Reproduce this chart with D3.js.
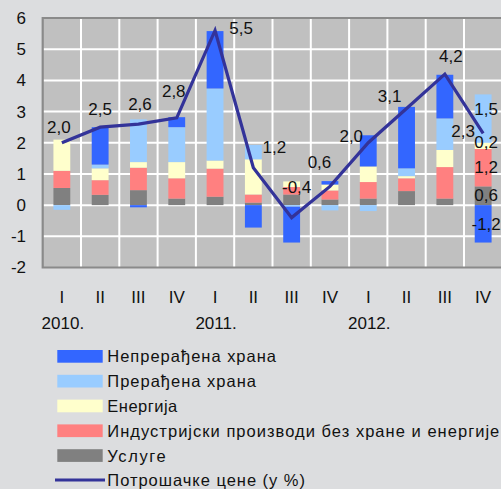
<!DOCTYPE html>
<html>
<head>
<meta charset="utf-8">
<script src="https://cdn.jsdelivr.net/npm/d3@7"></script>
<style>
  html, body { margin: 0; padding: 0; background: #DCDDDF; overflow: hidden; }
  svg { display: block; font-family: "Liberation Sans", Arial, sans-serif; }
</style>
</head>
<body>
<svg id="chart" width="501" height="489"></svg>
<script>
// ---- data ----
const quarters = ["I","II","III","IV","I","II","III","IV","I","II","III","IV"];
const years = [{label:"2010.", at:0},{label:"2011.", at:4},{label:"2012.", at:8}];
const yTicks = [-2,-1,0,1,2,3,4,5,6];

const seriesNames = [
  "Непрерађена храна",
  "Прерађена храна",
  "Енергија",
  "Индустријски производи без хране и енергије",
  "Услуге"
];
const unprocessedFood = [0, 1.20, -0.07, 0.32, 1.84, -0.72, -1.15, 0.11, 1.00, 1.97, 1.40, -1.20];
const processedFood   = [-0.15, 0.12, 1.37, 1.12, 2.31, 0.46, -0.05, -0.17, -0.19, 0.25, 1.01, 1.55];
const energy          = [1.00, 0.38, 0.18, 0.52, 0.26, 1.13, 0.18, 0.19, 0.50, 0.07, 0.55, 0.20];
const industrial      = [0.55, 0.47, 0.72, 0.65, 0.90, 0.26, 0.24, 0.29, 0.53, 0.41, 1.01, 1.20];
const services        = [0.55, 0.33, 0.48, 0.21, 0.27, 0.08, 0.34, 0.18, 0.21, 0.45, 0.21, 0.60];

const cpiName = "Потрошачке цене (у %)";
const cpi = [2.0, 2.5, 2.6, 2.8, 5.6, 1.2, -0.4, 0.6, 2.0, 3.1, 4.2, 2.3];
const cpiLabels = ["2,0","2,5","2,6","2,8","5,5","1,2","-0,4","0,6","2,0","3,1","4,2","2,3"];
// component labels shown on the last bar
const lastBarLabels = [
  {key:"unprocessed", text:"-1,2"},
  {key:"processed", text:"1,5"},
  {key:"energy", text:"0,2"},
  {key:"industrial", text:"1,2"},
  {key:"services", text:"0,6"}
];

// ---- styles ----
const colors = {
  unprocessed: "#3366FF",
  processed: "#99CCFF",
  energy: "#FFFFCC",
  industrial: "#FF8080",
  services: "#808080"
};
const lineColor = "#333399";

// ---- build table ----
const table = quarters.map((q, i) => ({
  idx: i,
  services: services[i],
  industrial: industrial[i],
  energy: energy[i],
  processed: processedFood[i],
  unprocessed: unprocessedFood[i]
}));
const stackKeys = ["services","industrial","energy","processed","unprocessed"];
const stacked = d3.stack().keys(stackKeys).offset(d3.stackOffsetDiverging)(table);

// ---- layout ----
const svg = d3.select("#chart");
const plot = {left: 42.7, right: 502.3, top: 18, bottom: 267.5};

const x = d3.scaleBand().domain(d3.range(quarters.length))
  .range([plot.left, plot.right]).paddingInner(0.56).paddingOuter(0.28);
const xc = d3.scaleBand().domain(d3.range(quarters.length))
  .range([plot.left, plot.right]);
const y = d3.scaleLinear().domain([-2, 6]).range([plot.bottom, plot.top]);

// plot background
svg.append("rect")
  .attr("x", plot.left).attr("y", plot.top)
  .attr("width", plot.right - plot.left).attr("height", plot.bottom - plot.top)
  .attr("fill", "#C0C0C0");

// horizontal grid
svg.append("g").selectAll("line").data(yTicks.filter(t => t > -2 && t < 6)).join("line")
  .attr("x1", plot.left).attr("x2", plot.right)
  .attr("y1", d => y(d)).attr("y2", d => y(d))
  .attr("stroke", "#FFFFFF").attr("stroke-width", 2);
// vertical grid at category boundaries
svg.append("g").selectAll("line").data(d3.range(1, quarters.length)).join("line")
  .attr("x1", d => xc(d)).attr("x2", d => xc(d))
  .attr("y1", plot.top).attr("y2", plot.bottom)
  .attr("stroke", "#FFFFFF").attr("stroke-width", 2);

// bars
svg.append("g").selectAll("g").data(stacked).join("g")
  .attr("fill", d => colors[d.key])
  .selectAll("rect").data(d => d).join("rect")
  .attr("x", d => x(d.data.idx))
  .attr("width", x.bandwidth())
  .attr("y", d => y(Math.max(d[0], d[1])))
  .attr("height", d => Math.abs(y(d[0]) - y(d[1])));

// plot border
svg.append("path")
  .attr("d", `M${plot.right},${plot.top}H${plot.left}V${plot.bottom}H${plot.right}`)
  .attr("fill", "none").attr("stroke", "#8A8A8A").attr("stroke-width", 2.2);

// y axis labels
const yAxis = d3.axisLeft(y).tickValues(yTicks).tickSize(0).tickPadding(0).tickFormat(d => String(d));
const gy = svg.append("g").attr("transform", `translate(26,0)`).call(yAxis);
gy.select(".domain").remove();
gy.selectAll("text").attr("font-size", 17).attr("fill", "#111").attr("font-family", "Liberation Sans, Arial, sans-serif");

// x axis labels
const xAxis = d3.axisBottom(xc).tickSize(0).tickPadding(0).tickFormat(i => quarters[i]);
const gx = svg.append("g").attr("transform", `translate(0,${plot.bottom})`).call(xAxis);
gx.select(".domain").remove();
gx.selectAll("text").attr("font-size", 17).attr("fill", "#111")
  .attr("font-family", "Liberation Sans, Arial, sans-serif").attr("dy", null).attr("y", 35);
svg.append("g").selectAll("text").data(years).join("text")
  .attr("x", d => xc(d.at) + xc.bandwidth() / 2 + 1)
  .attr("y", 329)
  .attr("text-anchor", "middle").attr("font-size", 17).attr("fill", "#111")
  .text(d => d.label);

// CPI line
const line = d3.line().x((d, i) => xc(i) + xc.bandwidth() / 2).y(d => y(d));
svg.append("path").datum(cpi)
  .attr("d", line).attr("fill", "none")
  .attr("stroke", lineColor).attr("stroke-width", 3.2).attr("stroke-linejoin", "miter");

// CPI labels
const cpiOffsets = [[-3,-10],[0,-12],[1.5,-14],[-3,-21],[26,4],[21,-15],[5,-25],[-10.5,-18],[-17,-1],[-17,-6],[6,-12],[-20,4]];
svg.append("g").selectAll("text").data(cpi).join("text")
  .attr("x", (d, i) => xc(i) + xc.bandwidth() / 2 + cpiOffsets[i][0])
  .attr("y", (d, i) => y(d) + cpiOffsets[i][1])
  .attr("text-anchor", "middle").attr("font-size", 17).attr("fill", "#111")
  .text((d, i) => cpiLabels[i]);

// last bar component labels
const last = quarters.length - 1;
const lastOffsets = {unprocessed: 6, processed: -4, energy: 2, industrial: 5, services: 5};
svg.append("g").selectAll("text").data(lastBarLabels).join("text")
  .attr("x", xc(last) + xc.bandwidth() / 2 + 3)
  .attr("y", d => {
    const s = stacked.find(s => s.key === d.key)[last];
    return y((s[0] + s[1]) / 2) + lastOffsets[d.key];
  })
  .attr("text-anchor", "middle").attr("font-size", 17).attr("fill", "#111")
  .text(d => d.text);

// legend
const legendKeys = ["unprocessed","processed","energy","industrial","services"];
const legendWidths = [168.7, 148.7, 70, 392, 58.4, 197.7];
const lg = svg.append("g");
legendKeys.forEach((k, i) => {
  const yy = 350 + i * 24.8;
  lg.append("rect").attr("x", 57.3).attr("y", yy).attr("width", 45.4).attr("height", 12.7).attr("fill", colors[k]);
  lg.append("text").attr("x", 107.3).attr("y", yy + 12.3).attr("font-size", 16.5).attr("fill", "#111")
    .attr("textLength", legendWidths[i]).attr("lengthAdjust", "spacing")
    .text(seriesNames[i]);
});
{
  const yy = 350 + 5 * 24.8;
  lg.append("line").attr("x1", 55).attr("x2", 105).attr("y1", yy + 6).attr("y2", yy + 6)
    .attr("stroke", lineColor).attr("stroke-width", 3);
  lg.append("text").attr("x", 107.3).attr("y", yy + 12.3).attr("font-size", 16.5).attr("fill", "#111")
    .attr("textLength", legendWidths[5]).attr("lengthAdjust", "spacing")
    .text(cpiName);
}
</script>
</body>
</html>
